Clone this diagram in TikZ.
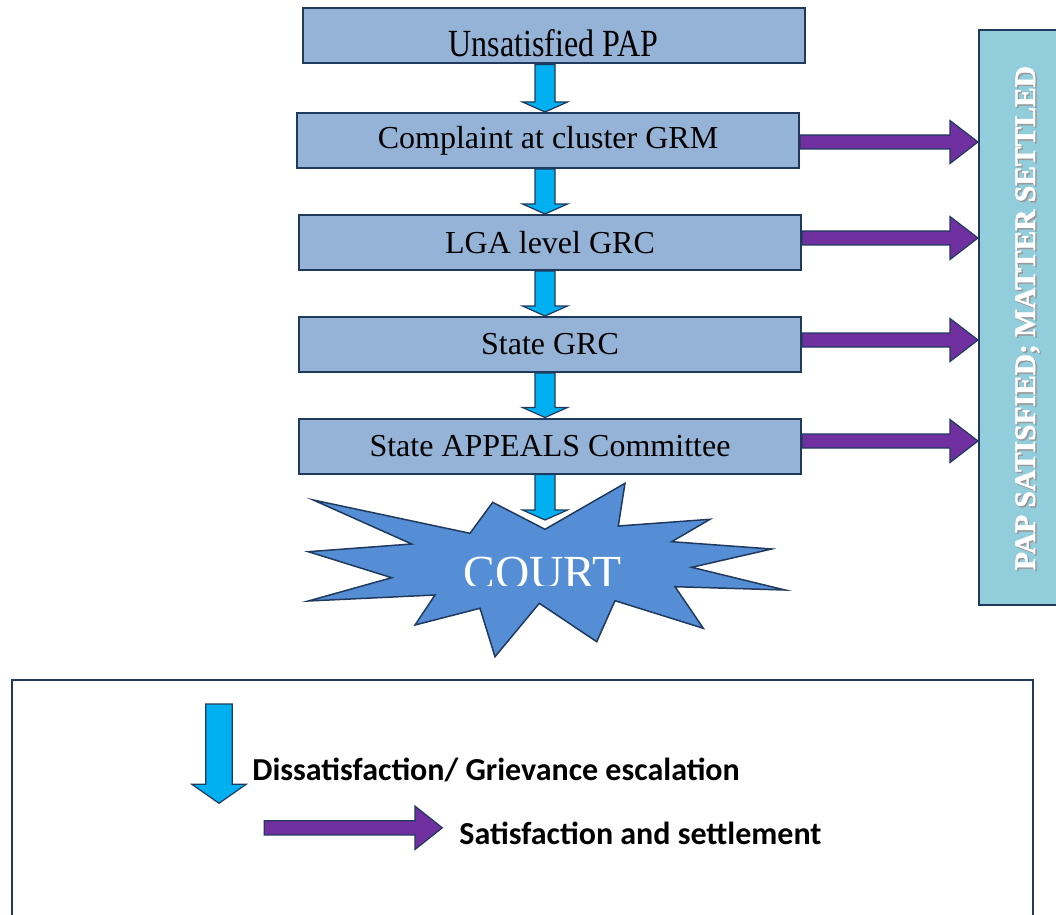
\documentclass[tikz,border=0pt]{standalone}
\usepackage{fontspec}
\setmainfont{Liberation Serif}
\newfontfamily\legendfont{Carlito}
\newfontfamily\sidefam[FakeBold=1.6]{Liberation Serif Bold}
\usepackage{tikz}
\usetikzlibrary{positioning}
\usetikzlibrary{calc}

\definecolor{boxfill}{HTML}{95B3D7}
\definecolor{navy}{HTML}{203A5E}
\definecolor{escalcol}{HTML}{00B0F0}
\definecolor{settlecol}{HTML}{7030A0}
\definecolor{burstcol}{HTML}{558ED5}
\definecolor{sidecol}{HTML}{92CDDC}

% block arrows: start, tip, half shaft, half head, head length
\newcommand{\downblock}[5]{%
    \draw[escal] ($(#1)+(-#3,0)$) -- ($(#2)+(-#3,-#5)$) -- ($(#2)+(-#4,-#5)$) -- (#2)
        -- ($(#2)+(#4,-#5)$) -- ($(#2)+(#3,-#5)$) -- ($(#1)+(#3,0)$) -- cycle;}
\newcommand{\rightblock}[5]{%
    \draw[settle] ($(#1)+(0,-#3)$) -- ($(#2)+(-#5,-#3)$) -- ($(#2)+(-#5,-#4)$) -- (#2)
        -- ($(#2)+(-#5,#4)$) -- ($(#2)+(-#5,#3)$) -- ($(#1)+(0,#3)$) -- cycle;}

\begin{document}
\begin{tikzpicture}[x=0.5pt, y=-0.5pt,
    box/.style={draw=navy, line width=1pt, fill=boxfill, minimum width=251pt,
        minimum height=27.5pt, inner sep=0pt, font=\fontsize{16}{19}\selectfont},
    escal/.style={draw=navy, line width=0.6pt, fill=escalcol},
    settle/.style={draw=navy, line width=0.6pt, fill=settlecol},
    sidefont/.style={rotate=90, anchor=base, inner sep=0pt, font=\sidefam\fontsize{14.75}{17}\selectfont},
    legendtext/.style={anchor=base west, inner sep=0pt, font=\legendfont\bfseries\fontsize{16}{19}\selectfont}]
    \useasboundingbox[fill=white] (0,0) rectangle (1056,915);
    \coordinate (axis) at (545,0);

    % burst
    \draw[navy, line width=0.75pt, fill=burstcol]
        (313.3,500) -- (470,533.3) -- (492.7,502.3) -- (545,529.3) -- (625,483.3)
        -- (618.3,526) -- (710,519.3) -- (671.7,541.7) -- (771.7,549) -- (691.7,567.3)
        -- (785,590) -- (675,586.7) -- (703.3,628.3) -- (615,600.7) -- (596.7,641.7)
        -- (539.3,603.3) -- (495,656.7) -- (480,608.3) -- (415,625) -- (435,595)
        -- (308.3,601) -- (391.7,577.7) -- (308.3,551.7) -- (411.7,544) -- cycle;
    \begin{scope}
        \clip (300,470) rectangle (800,585);
        \node[anchor=base, inner sep=0pt, text=white, font=\fontsize{23.75}{28}\selectfont]
            (court) at (542.5,588.5) {COURT};
    \end{scope}
    \coordinate (courttip) at (545,520);

    % side panel
    \node[draw=navy, line width=1pt, fill=sidecol, minimum width=41.5pt,
        minimum height=287.5pt, inner sep=0pt] (side) at (1020.5,317.5) {};
    \node[sidefont, text=black!40] (sideshadow) at (1036.5,319.5) {PAP SATISFIED; MATTER SETTLED};
    \node[sidefont, text=white] (sidetext) at (1035,318) {PAP SATISFIED; MATTER SETTLED};

    % steps
    \node[box] (pap) at (553.5,36) {\raisebox{-10.3pt}[0pt][0pt]{\scalebox{1}[1.2]{Unsatisfied PAP}}};
    \node[box] (grm) at (548,140.5) {Complaint at cluster GRM};
    \node[box] (lga) at (550,242.5) {LGA level GRC};
    \node[box] (state) at (550,344.5) {State GRC};
    \node[box] (appeals) at (550,446) {State APPEALS Committee};

    \downblock{pap.south -| axis}{grm.north -| axis}{10}{22.5}{10}
    \downblock{grm.south -| axis}{lga.north -| axis}{10}{22.5}{10}
    \downblock{lga.south -| axis}{state.north -| axis}{10}{22.5}{10}
    \downblock{state.south -| axis}{appeals.north -| axis}{10}{22.5}{10}
    \downblock{appeals.south -| axis}{courttip}{10}{22.5}{10}

    \coordinate (grmout) at ($(grm.east)+(0,1.5)$);
    \coordinate (lgaout) at ($(lga.east)+(0,-4.5)$);
    \coordinate (stateout) at ($(state.east)+(0,-4.5)$);
    \coordinate (appealsout) at ($(appeals.east)+(0,-5)$);
    \rightblock{grmout}{grmout -| side.west}{7}{21.5}{28}
    \rightblock{lgaout}{lgaout -| side.west}{7}{21.5}{28}
    \rightblock{stateout}{stateout -| side.west}{7}{21.5}{28}
    \rightblock{appealsout}{appealsout -| side.west}{7}{21.5}{28}

    % legend
    \draw[navy, line width=0.7pt] (12,680) rectangle (1033,940);
    \coordinate (esctop) at (219,704);
    \coordinate (esctip) at (219,803.3);
    \downblock{esctop}{esctip}{13.2}{27.2}{19}
    \node[legendtext] (esctext) at (252,780) {Dissatisfaction/ Grievance escalation};
    \coordinate (settop) at (264.3,827.8);
    \coordinate (settip) at (442.3,827.8);
    \rightblock{settop}{settip}{7.1}{21.7}{27.3}
    \node[legendtext] (settext) at (459,844) {Satisfaction and settlement};
\end{tikzpicture}
\end{document}
